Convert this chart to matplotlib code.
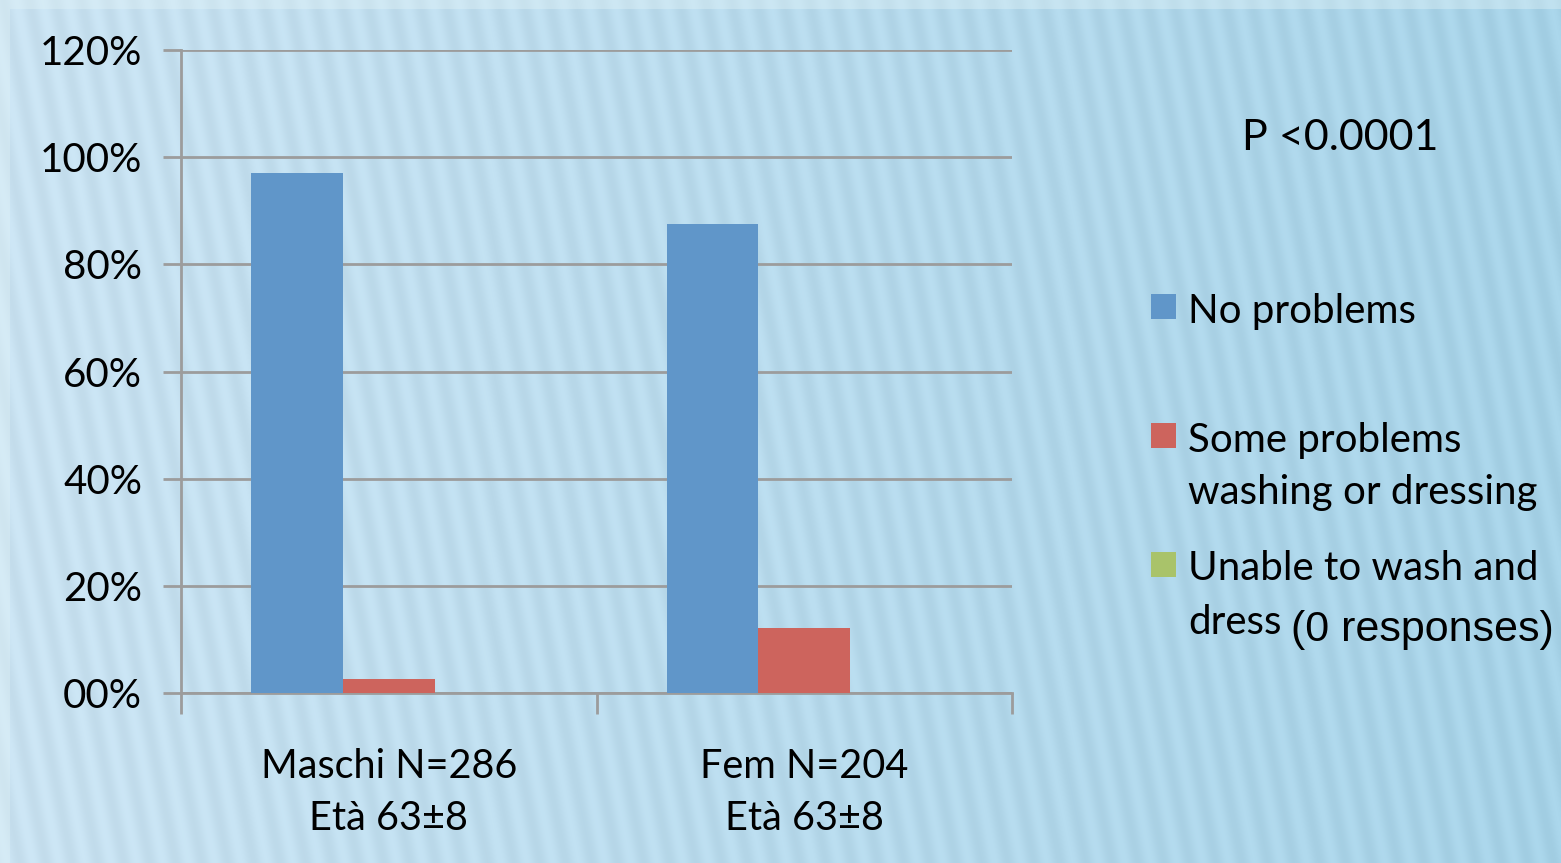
import numpy as np
import matplotlib
matplotlib.use("Agg")
import matplotlib.pyplot as plt
from matplotlib.patches import Rectangle
from matplotlib.transforms import blended_transform_factory

# ---- data ----
categories = ["Maschi N=286", "Fem N=204"]
category_ages = ["Età 63±8", "Età 63±8"]
series_names = ["No problems", "Some problems\nwashing or dressing", "Unable to wash and\ndress"]
no_problems = [0.97, 0.875]
some_problems = [0.027, 0.121]
unable = [0.0, 0.0]
series_colors = ["#6096c9", "#cd645d", "#a9c36a"]
ytick_vals = [0, 0.2, 0.4, 0.6, 0.8, 1.0, 1.2]
ytick_labels = ["00%", "20%", "40%", "60%", "80%", "100%", "120%"]
p_text = "P <0.0001"
zero_note = "(0 responses)"

W, H = 1561, 863
fig = plt.figure(figsize=(W / 100, H / 100), dpi=100)
FONT = "Lato"

# background gradient with diagonal stripes
bg = fig.add_axes([0, 0, 1, 1])
yy, xx = np.mgrid[0:H, 0:W].astype(float)
t = xx / W
base = np.zeros((H, W, 3))
c0 = np.array([201, 226, 241]) / 255
c1 = np.array([166, 210, 231]) / 255
for k in range(3):
    base[..., k] = c0[k] * (1 - t) + c1[k] * t
stripes = np.sin(2 * np.pi * (xx + 0.2 * (H - yy)) / 26.0)
base += (stripes[..., None] * 0.02)
outer = (yy < 10) | (xx < 10)
base[outer] = base[outer] * 0.6 + np.array([225, 242, 246]) / 255 * 0.4
bg.imshow(np.clip(base, 0, 1), aspect="auto", extent=[0, W, H, 0])
bg.set_axis_off()

L, R, T, B = 181, 1012, 50, 693
ax = fig.add_axes([L / W, (H - B) / H, (R - L) / W, (B - T) / H])
ax.patch.set_alpha(0)

x = np.arange(len(categories))
bw = 0.221
for i, (vals, col) in enumerate(zip([no_problems, some_problems, unable], series_colors)):
    ax.bar(x + (i - 1) * bw, vals, width=bw, color=col, zorder=3, linewidth=0)

ax.set_xlim(-0.5, 1.5)
ax.set_ylim(0, 1.2)
grid_c = "#9c9c9c"
ax.set_yticks(ytick_vals)
ax.set_yticklabels(ytick_labels)
ax.yaxis.grid(True, color=grid_c, linewidth=2, zorder=1)
ax.tick_params(axis="y", length=13, width=2, color=grid_c, pad=15, labelsize=29)
for lab in ax.get_yticklabels():
    lab.set_fontfamily(FONT)

ax.set_xticks([-0.5, 0.5, 1.5])
ax.set_xticklabels([])
ax.tick_params(axis="x", which="major", length=15, width=2, color=grid_c)

tr = blended_transform_factory(ax.transData, fig.transFigure)
for xi, c, a in zip(x, categories, category_ages):
    ax.text(xi, 1 - 766 / H, c, transform=tr, ha="center", va="center",
            fontsize=28.5, fontfamily=FONT)
    ax.text(xi, 1 - 818 / H, a, transform=tr, ha="center", va="center",
            fontsize=28.5, fontfamily=FONT)

for s in ["top", "right"]:
    ax.spines[s].set_visible(False)
for s in ["left", "bottom"]:
    ax.spines[s].set_color(grid_c)
    ax.spines[s].set_linewidth(2)

# P value
fig.text(1242 / W, 1 - 138 / H, p_text, fontsize=31, fontfamily=FONT, va="center", ha="left")

# legend (manual)
sq = 25
legend_tops = [294, 423, 552]
line_y = [[311], [440, 492], [568, 622]]
for top, ys, name, col in zip(legend_tops, line_y, series_names, series_colors):
    fig.add_artist(Rectangle((1151 / W, 1 - (top + sq) / H), sq / W, sq / H,
                             transform=fig.transFigure, color=col, lw=0))
    for ty, line in zip(ys, name.split("\n")):
        fig.text(1188 / W, 1 - ty / H, line, fontsize=29, fontfamily=FONT,
                 va="center", ha="left")
fig.text(1291 / W, 1 - 630 / H, zero_note, fontsize=31,
         fontfamily="Liberation Sans", va="center", ha="left")

fig.savefig("out.png", dpi=100)
